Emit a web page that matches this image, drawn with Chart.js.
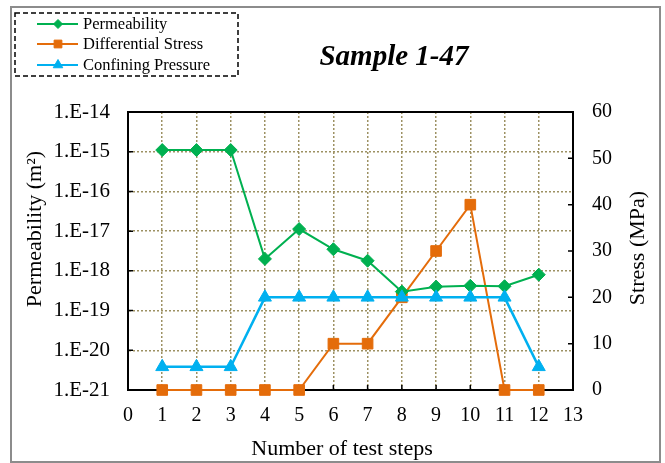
<!DOCTYPE html>
<html>
<head>
<meta charset="utf-8">
<script src="https://cdn.jsdelivr.net/npm/chart.js@4.4.0/dist/chart.umd.min.js"></script>
<style>
  html, body { margin: 0; padding: 0; background: #fff; }
  #contenedor { width: 665px; height: 463px; position: relative; }
</style>
</head>
<body>
<div id="contenedor"><canvas id="grafico"></canvas></div>
<script>
// Datos
const pasos = [1, 2, 3, 4, 5, 6, 7, 8, 9, 10, 11, 12];
const permeabilidad = [1.1e-15, 1.1e-15, 1.1e-15, 2.0e-18, 1.13e-17, 3.5e-18, 1.8e-18, 3.0e-19, 4.0e-19, 4.2e-19, 4.1e-19, 8.0e-19];
const esfuerzoDiferencial = [0, 0, 0, 0, 0, 10, 10, 20, 30, 40, 0, 0];
const presionConfinamiento = [5, 5, 5, 20, 20, 20, 20, 20, 20, 20, 20, 5];

// Ejes
const ticksPasos = [0, 1, 2, 3, 4, 5, 6, 7, 8, 9, 10, 11, 12, 13];
const exponentesPerm = [-21, -20, -19, -18, -17, -16, -15, -14];
const ticksEsfuerzo = [0, 10, 20, 30, 40, 50, 60];

// Textos
const nombresSeries = ["Permeability", "Differential Stress", "Confining Pressure"];
const tituloMuestra = "Sample 1-47";
const tituloX = "Number of test steps";
const tituloYIzq = "Permeability (m²)";
const tituloYDer = "Stress (MPa)";

const fuente = '"Liberation Serif", "Times New Roman", serif';
const colorGrid = "#9d9163";

const puntos = (ys) => pasos.map((x, i) => ({ x, y: ys[i] }));

// Marco, leyenda, título y marcas interiores
const decoracion = {
  id: "decoracion",
  beforeDraw(chart) {
    const ctx = chart.ctx;
    ctx.save();
    ctx.fillStyle = "#fff";
    ctx.fillRect(0, 0, chart.width, chart.height);
    ctx.strokeStyle = "#8c8c8c";
    ctx.lineWidth = 2;
    ctx.strokeRect(11, 7, 649, 455);
    ctx.restore();
  },
  beforeDatasetsDraw(chart) {
    const { ctx, chartArea: a, scales } = chart;
    ctx.save();
    ctx.strokeStyle = "#000";
    ctx.lineWidth = 2;
    ctx.beginPath();
    ctx.moveTo(a.left - 1, a.top);
    ctx.lineTo(a.right + 1, a.top);
    ctx.stroke();
    ctx.lineWidth = 1.5;
    ctx.beginPath();
    exponentesPerm.forEach(e => {
      const y = scales.y.getPixelForValue(Number("1e" + e));
      ctx.moveTo(a.left, y); ctx.lineTo(a.left + 5, y);
    });
    ticksEsfuerzo.forEach(v => {
      const y = scales.y1.getPixelForValue(v);
      ctx.moveTo(a.right, y); ctx.lineTo(a.right - 5, y);
    });
    ticksPasos.forEach(v => {
      const x = scales.x.getPixelForValue(v);
      ctx.moveTo(x, a.bottom); ctx.lineTo(x, a.bottom - 5);
    });
    ctx.stroke();
    ctx.restore();
  },
  afterDraw(chart) {
    const { ctx } = chart;
    ctx.save();

    // Títulos de ejes
    ctx.fillStyle = "#000";
    ctx.font = "22px " + fuente;
    ctx.textAlign = "center";
    ctx.textBaseline = "alphabetic";
    ctx.fillText(tituloX, 342, 455);

    ctx.save();
    ctx.translate(41, 229);
    ctx.rotate(-Math.PI / 2);
    ctx.fillText(tituloYIzq, 0, 0);
    ctx.restore();

    ctx.save();
    ctx.translate(644, 248);
    ctx.rotate(-Math.PI / 2);
    ctx.fillText(tituloYDer, 0, 0);
    ctx.restore();

    // Título de la muestra
    ctx.font = "italic bold 29px " + fuente;
    ctx.fillText(tituloMuestra, 394, 65);

    // Leyenda
    ctx.strokeStyle = "#000";
    ctx.lineWidth = 1.5;
    ctx.setLineDash([5, 3]);
    ctx.strokeRect(15, 13, 223, 63);
    ctx.setLineDash([]);

    const filas = [24, 44, 65];
    const radios = [4.5, 5.5, 5.5];
    chart.data.datasets.forEach((ds, i) => {
      const y = filas[i];
      ctx.strokeStyle = ds.borderColor;
      ctx.fillStyle = ds.backgroundColor;
      ctx.lineWidth = 2;
      ctx.beginPath();
      ctx.moveTo(37, y); ctx.lineTo(78, y);
      ctx.stroke();
      ctx.lineWidth = 1;
      Chart.helpers.drawPoint(ctx, { pointStyle: ds.pointStyle, radius: radios[i], borderWidth: 1, rotation: 0 }, 58, y);
      ctx.fillStyle = "#000";
      ctx.font = "16.5px " + fuente;
      ctx.textAlign = "left";
      ctx.textBaseline = "middle";
      ctx.fillText(ds.label, 83, y + 1);
    });
    ctx.restore();
  }
};

const ctx = document.getElementById("grafico").getContext("2d");

new Chart(ctx, {
  type: "line",
  data: {
    datasets: [
      {
        label: nombresSeries[0],
        data: puntos(permeabilidad),
        yAxisID: "y",
        borderColor: "#00b050",
        backgroundColor: "#00b050",
        borderWidth: 2,
        pointStyle: "rectRot",
        pointRadius: 6.5,
        pointBorderWidth: 1,
        order: 1,
        clip: false
      },
      {
        label: nombresSeries[1],
        data: puntos(esfuerzoDiferencial),
        yAxisID: "y1",
        borderColor: "#e46c0a",
        backgroundColor: "#e46c0a",
        borderWidth: 2,
        pointStyle: "rect",
        pointRadius: 7.5,
        pointBorderWidth: 1,
        order: 2,
        clip: false
      },
      {
        label: nombresSeries[2],
        data: puntos(presionConfinamiento),
        yAxisID: "y1",
        borderColor: "#00b0f0",
        backgroundColor: "#00b0f0",
        borderWidth: 2.5,
        pointStyle: "triangle",
        pointRadius: 7.5,
        pointBorderWidth: 1,
        order: 0,
        clip: false
      }
    ]
  },
  options: {
    responsive: true,
    maintainAspectRatio: false,
    animation: false,
    layout: { padding: { left: 0, right: 0, top: 112, bottom: 0 } },
    plugins: {
      legend: { display: false },
      tooltip: { enabled: false }
    },
    scales: {
      x: {
        type: "linear",
        min: 0,
        max: 13,
        afterBuildTicks: s => { s.ticks = ticksPasos.map(v => ({ value: v })); },
        afterFit: s => { s.height = 73; },
        grid: { color: colorGrid, lineWidth: 1.5, drawTicks: false },
        border: { color: "#000", width: 2, dash: [2, 2] },
        ticks: { color: "#000", font: { family: fuente, size: 20 }, padding: 14, maxRotation: 0 }
      },
      y: {
        type: "logarithmic",
        position: "left",
        min: 1e-21,
        max: 1e-14,
        afterBuildTicks: s => { s.ticks = exponentesPerm.map(e => ({ value: Number("1e" + e) })); },
        afterFit: s => { s.width = 128; },
        grid: { color: colorGrid, lineWidth: 1.5, drawTicks: false },
        border: { color: "#000", width: 2, dash: [2, 2] },
        ticks: {
          color: "#000",
          font: { family: fuente, size: 21 },
          padding: 18,
          callback: v => "1.E" + Math.round(Math.log10(v))
        }
      },
      y1: {
        type: "linear",
        position: "right",
        min: 0,
        max: 60,
        afterBuildTicks: s => { s.ticks = ticksEsfuerzo.map(v => ({ value: v })); },
        afterFit: s => { s.width = 92; },
        grid: { display: false, drawTicks: false },
        border: { color: "#000", width: 2 },
        ticks: { color: "#000", font: { family: fuente, size: 20 }, padding: 19 }
      }
    }
  },
  plugins: [decoracion]
});
</script>
</body>
</html>
